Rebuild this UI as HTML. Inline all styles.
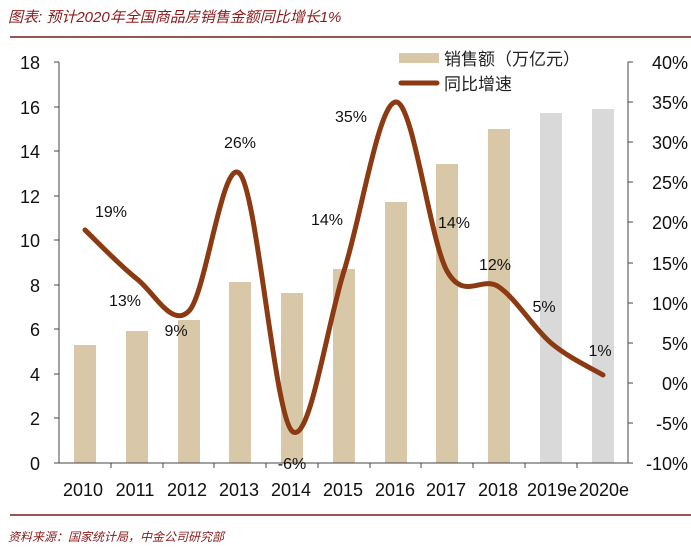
<!DOCTYPE html>
<html><head><meta charset="utf-8"><style>
body{margin:0;background:#fff;}
svg{display:block;font-family:"Liberation Sans","Noto Sans CJK SC",sans-serif;}
</style></head><body>
<svg width="691" height="550" viewBox="0 0 691 550" xmlns="http://www.w3.org/2000/svg">
<text x="8" y="22" font-size="15" font-style="italic" fill="#8b1a1a">图表: 预计2020年全国商品房销售金额同比增长1%</text>
<line x1="10" y1="37" x2="691" y2="37" stroke="#7a1c1c" stroke-width="1.5"/>
<g fill="#d9c8a8">
<rect x="74" y="345" width="22" height="118"/>
<rect x="126" y="331" width="22" height="132"/>
<rect x="178" y="320" width="22" height="143"/>
<rect x="229" y="282" width="22" height="181"/>
<rect x="281" y="293" width="22" height="170"/>
<rect x="333" y="269" width="22" height="194"/>
<rect x="385" y="202" width="22" height="261"/>
<rect x="436" y="164" width="22" height="299"/>
<rect x="488" y="129" width="22" height="334"/>
</g>
<g fill="#d9d9d9">
<rect x="540" y="113" width="22" height="350"/>
<rect x="592" y="109" width="22" height="354"/>
</g>
<g stroke="#444" stroke-width="1" fill="none">
<path d="M59 62V463H628V62"/>
<path d="M54 62H59M54 107H59M54 151H59M54 196H59M54 240H59M54 285H59M54 329H59M54 374H59M54 418H59M54 463H59"/>
<path d="M628 62H633M628 102H633M628 142H633M628 182H633M628 222H633M628 263H633M628 303H633M628 343H633M628 383H633M628 423H633M628 463H633"/>
<path d="M111 463V468M163 463V468M214 463V468M266 463V468M318 463V468M370 463V468M421 463V468M473 463V468M525 463V468M577 463V468"/>
</g>
<g font-size="18" fill="#111" text-anchor="end">
<text x="40" y="69">18</text><text x="40" y="114">16</text><text x="40" y="158">14</text><text x="40" y="203">12</text><text x="40" y="247">10</text><text x="40" y="292">8</text><text x="40" y="336">6</text><text x="40" y="381">4</text><text x="40" y="425">2</text><text x="40" y="470">0</text>
</g>
<g font-size="18" fill="#111" text-anchor="end">
<text x="688" y="69">40%</text><text x="688" y="109">35%</text><text x="688" y="149">30%</text><text x="688" y="189">25%</text><text x="688" y="229">20%</text><text x="688" y="270">15%</text><text x="688" y="310">10%</text><text x="688" y="350">5%</text><text x="688" y="390">0%</text><text x="688" y="430">-5%</text><text x="688" y="470">-10%</text>
</g>
<g font-size="18" fill="#111" text-anchor="middle">
<text x="83" y="496">2010</text><text x="135" y="496">2011</text><text x="187" y="496">2012</text><text x="239" y="496">2013</text><text x="291" y="496">2014</text><text x="343" y="496">2015</text><text x="395" y="496">2016</text><text x="446" y="496">2017</text><text x="498" y="496">2018</text><text x="552" y="496">2019e</text><text x="604" y="496">2020e</text>
</g>
<path d="M85 230C93.7 238.2 119.7 265.5 137 279C154.3 292.5 171.8 328.5 189 311C206.2 293.5 222.8 154 240 174C257.2 194 274.7 414.8 292 431C309.3 447.2 326.7 325.8 344 271C361.3 216.2 378.8 102 396 102C413.2 102 429.8 240.2 447 271C464.2 301.8 481.7 275 499 287C516.3 299 533.7 328.3 551 343C568.3 357.7 594.3 369.7 603 375" fill="none" stroke="#8b3a12" stroke-width="5" stroke-linecap="round"/>
<g font-size="16" fill="#111" text-anchor="middle">
<text x="111" y="217">19%</text><text x="125" y="306">13%</text><text x="176" y="336">9%</text><text x="240" y="148">26%</text><text x="292" y="469">-6%</text><text x="327" y="225">14%</text><text x="351" y="122">35%</text><text x="454" y="228">14%</text><text x="495" y="270">12%</text><text x="544" y="312">5%</text><text x="600" y="356">1%</text>
</g>
<rect x="399" y="53" width="40" height="10" fill="#d9c8a8"/>
<text x="444" y="65" font-size="17" fill="#222">销售额（万亿元）</text>
<line x1="401" y1="83" x2="437" y2="83" stroke="#8b3a12" stroke-width="5" stroke-linecap="round"/>
<text x="444" y="90" font-size="17" fill="#222">同比增速</text>
<line x1="10" y1="515" x2="691" y2="515" stroke="#7a1c1c" stroke-width="1.5"/>
<text x="8" y="541" font-size="12" font-style="italic" fill="#8b1a1a">资料来源：国家统计局，中金公司研究部</text>
</svg>
</body></html>
